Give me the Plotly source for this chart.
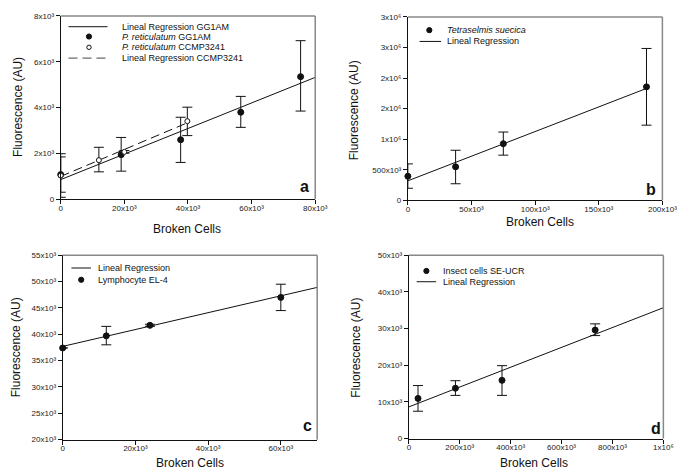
import plotly.graph_objects as go

# ---------------- data ----------------
# Panel a
a_gg_x = [0, 19000, 37700, 56600, 75400]
a_gg_y = [1080, 1950, 2600, 3800, 5350]
a_gg_ep = [770, 750, 980, 690, 1570]
a_gg_em = [770, 720, 990, 660, 1500]
a_cc_x = [0, 12000, 20000, 39800]
a_cc_y = [1040, 1710, 2070, 3410]
a_cc_ep = [950, 560, 60, 610]
a_cc_em = [950, 510, 60, 630]
a_gg_line_x = [0, 80000]
a_gg_line_y = [860, 5320]
a_cc_line_x = [0, 40000]
a_cc_line_y = [1000, 3350]

# Panel b
b_x = [0, 37500, 75000, 187500]
b_y = [394000, 548000, 926000, 1856000]
b_ep = [202000, 271000, 191000, 628000]
b_em = [197000, 277000, 187000, 627000]
b_line_x = [0, 187500]
b_line_y = [319000, 1830000]

# Panel c
c_x = [0, 12000, 24000, 60000]
c_y = [37400, 39700, 41700, 47000]
c_ep = [0, 1800, 200, 2500]
c_em = [0, 1700, 200, 2500]
c_line_x = [0, 70000]
c_line_y = [37700, 48900]

# Panel d
d_x = [36000, 183000, 366000, 732000]
d_y = [10980, 13750, 15900, 29600]
d_ep = [3500, 2050, 4000, 1700]
d_em = [3500, 1950, 4100, 1500]
d_line_x = [0, 1000000]
d_line_y = [8660, 35700]

# tick labels
a_xt = [0, 20000, 40000, 60000, 80000]
a_xl = ["0", "20x10³", "40x10³", "60x10³", "80x10³"]
a_yt = [0, 2000, 4000, 6000, 8000]
a_yl = ["0", "2x10³", "4x10³", "6x10³", "8x10³"]
b_xt = [0, 50000, 100000, 150000, 200000]
b_xl = ["0", "50x10³", "100x10³", "150x10³", "200x10³"]
b_yt = [0, 500000, 1000000, 1500000, 2000000, 2500000, 3000000]
b_yl = ["0", "500x10³", "1x10⁶", "2x10⁶", "2x10⁶", "3x10⁶", "3x10⁶"]
c_xt = [0, 20000, 40000, 60000]
c_xl = ["0", "20x10³", "40x10³", "60x10³"]
c_yt = [20000, 25000, 30000, 35000, 40000, 45000, 50000, 55000]
c_yl = ["20x10³", "25x10³", "30x10³", "35x10³", "40x10³", "45x10³", "50x10³", "55x10³"]
d_xt = [0, 200000, 400000, 600000, 800000, 1000000]
d_xl = ["0", "200x10³", "400x10³", "600x10³", "800x10³", "1x10⁶"]
d_yt = [0, 10000, 20000, 30000, 40000, 50000]
d_yl = ["0", "10x10³", "20x10³", "30x10³", "40x10³", "50x10³"]

W, H = 685, 470
FONT = "Liberation Sans, Arial, sans-serif"
INK = "#111111"


def px(x):
    return x / W


def py(y):
    return 1 - y / H


fig = go.Figure()


def err(ep, em):
    return dict(type="data", symmetric=False, array=ep, arrayminus=em,
                color=INK, thickness=1, width=5)


def add_line(x, y, xa, ya, dash="solid"):
    fig.add_trace(go.Scatter(x=x, y=y, mode="lines", xaxis=xa, yaxis=ya,
                             line=dict(color=INK, width=1, dash=dash),
                             showlegend=False, hoverinfo="skip", cliponaxis=False))


def add_pts(x, y, ep, em, xa, ya, filled=True):
    fig.add_trace(go.Scatter(
        x=x, y=y, mode="markers", xaxis=xa, yaxis=ya, error_y=err(ep, em),
        marker=dict(size=6 if filled else 5, color=INK if filled else "white",
                    line=dict(color=INK, width=1)),
        showlegend=False, cliponaxis=False))


# panel a
add_line(a_cc_line_x, a_cc_line_y, "x", "y", dash="9px,5px")
add_line(a_gg_line_x, a_gg_line_y, "x", "y")
add_pts(a_gg_x, a_gg_y, a_gg_ep, a_gg_em, "x", "y", True)
add_pts(a_cc_x, a_cc_y, a_cc_ep, a_cc_em, "x", "y", False)
# panel b
add_line(b_line_x, b_line_y, "x2", "y2")
add_pts(b_x, b_y, b_ep, b_em, "x2", "y2")
# panel c
add_line(c_line_x, c_line_y, "x3", "y3")
add_pts(c_x, c_y, c_ep, c_em, "x3", "y3")
# panel d
add_line(d_line_x, d_line_y, "x4", "y4")
add_pts(d_x, d_y, d_ep, d_em, "x4", "y4")

panels = [
    # name, x px range, y px range (top,bottom), xrange, yrange, ticks
    ("", (52, 313), (4, 191), [0, 80000], [0, 8000], a_xt, a_xl, a_yt, a_yl),
    ("2", (408, 669), (5, 192), [0, 200000], [0, 3000000], b_xt, b_xl, b_yt, b_yl),
    ("3", (54, 315), (248, 436), [0, 70000], [20000, 55000], c_xt, c_xl, c_yt, c_yl),
    ("4", (409, 670), (248, 435), [0, 1000000], [0, 50000], d_xt, d_xl, d_yt, d_yl),
]

layout = dict(width=W, height=H, margin=dict(l=0, r=0, t=0, b=0),
              paper_bgcolor="white", plot_bgcolor="white",
              font=dict(family=FONT, color=INK), showlegend=False)
shapes = []
for n, (x0, x1), (y0, y1), xr, yr, xt, xl, yt, yl in panels:
    ax_common = dict(showgrid=False, zeroline=False, showline=True, linecolor=INK,
                     linewidth=1, ticks="outside", ticklen=4, tickcolor=INK,
                     tickfont=dict(size=8, family=FONT, color="#222222"), mirror=False)
    layout["xaxis" + n] = dict(domain=[px(x0), px(x1)], range=xr, tickvals=xt,
                               ticktext=xl, anchor="y" + n, ticklabelstandoff=-3,
                               **ax_common)
    layout["yaxis" + n] = dict(domain=[py(y1), py(y0)], range=yr, tickvals=yt,
                               ticktext=yl, anchor="x" + n, **ax_common)
    # grey top/right frame
    shapes.append(dict(type="line", xref="paper", yref="paper",
                       x0=px(x0), x1=px(x1), y0=py(y0), y1=py(y0),
                       line=dict(color="#888888", width=1.5)))
    shapes.append(dict(type="line", xref="paper", yref="paper",
                       x0=px(x1), x1=px(x1), y0=py(y0), y1=py(y1),
                       line=dict(color="#888888", width=1.5)))

annotations = []


def text(x, y, s, size=9, xanchor="left", angle=0):
    annotations.append(dict(x=px(x), y=py(y), xref="paper", yref="paper", text=s,
                            showarrow=False, xanchor=xanchor, yanchor="middle",
                            textangle=angle,
                            font=dict(size=size, family=FONT, color=INK)))


def leg_line(xa, xb, y, dash="solid"):
    shapes.append(dict(type="line", xref="paper", yref="paper", x0=px(xa), x1=px(xb),
                       y0=py(y), y1=py(y), line=dict(color=INK if dash == "solid" else "#444444",
                                                     width=1, dash=dash)))


def leg_dot(x, y, filled=True):
    r = 2.6 if filled else 2.2
    shapes.append(dict(type="circle", xref="paper", yref="paper",
                       xsizemode="pixel", ysizemode="pixel",
                       xanchor=px(x), yanchor=py(y), x0=-r, x1=r, y0=-r, y1=r,
                       fillcolor=INK if filled else "white",
                       line=dict(color=INK, width=1)))


# legend a
leg_line(60, 100, 15)
text(113, 15, "Lineal Regression GG1AM")
leg_dot(81, 25, True)
text(113, 25, "<i>P. reticulatum</i> GG1AM")
leg_dot(81, 36, False)
text(113, 36, "<i>P. reticulatum</i> CCMP3241")
leg_line(60, 100, 47, dash="9px,5px")
text(113, 47, "Lineal Regression CCMP3241")
# legend b
leg_dot(430, 18.5, True)
text(446, 18.5, "<i>Tetraselmis suecica</i>")
leg_line(420, 442, 30)
text(446, 30, "Lineal Regression")
# legend c
leg_line(63, 83, 261)
text(88, 261, "Lineal Regression")
leg_dot(73, 273, True)
text(88, 273, "Lymphocyte EL-4")
# legend d
leg_dot(427, 264, True)
text(442, 264, "Insect cells SE-UCR")
leg_line(417, 437, 275)
text(442, 275, "Lineal Regression")

# axis titles
for cx, cy in [(182, 221), (543, 214), (185, 460), (537, 460)]:
    text(cx, cy, "Broken Cells", size=12, xanchor="center")
for cx, cy in [(8, 97), (353, 100), (7, 342), (355, 342)]:
    text(cx, cy, "Fluorescence (AU)", size=12, xanchor="center", angle=-90)

# panel letters
for cx, cy, s in [(302, 178, "a"), (657, 181, "b"), (305, 422, "c"), (662, 425, "d")]:
    text(cx, cy, "<b>" + s + "</b>", size=16, xanchor="center")

layout["shapes"] = shapes
layout["annotations"] = annotations
fig.update_layout(**layout)
fig.write_html("out.html")
